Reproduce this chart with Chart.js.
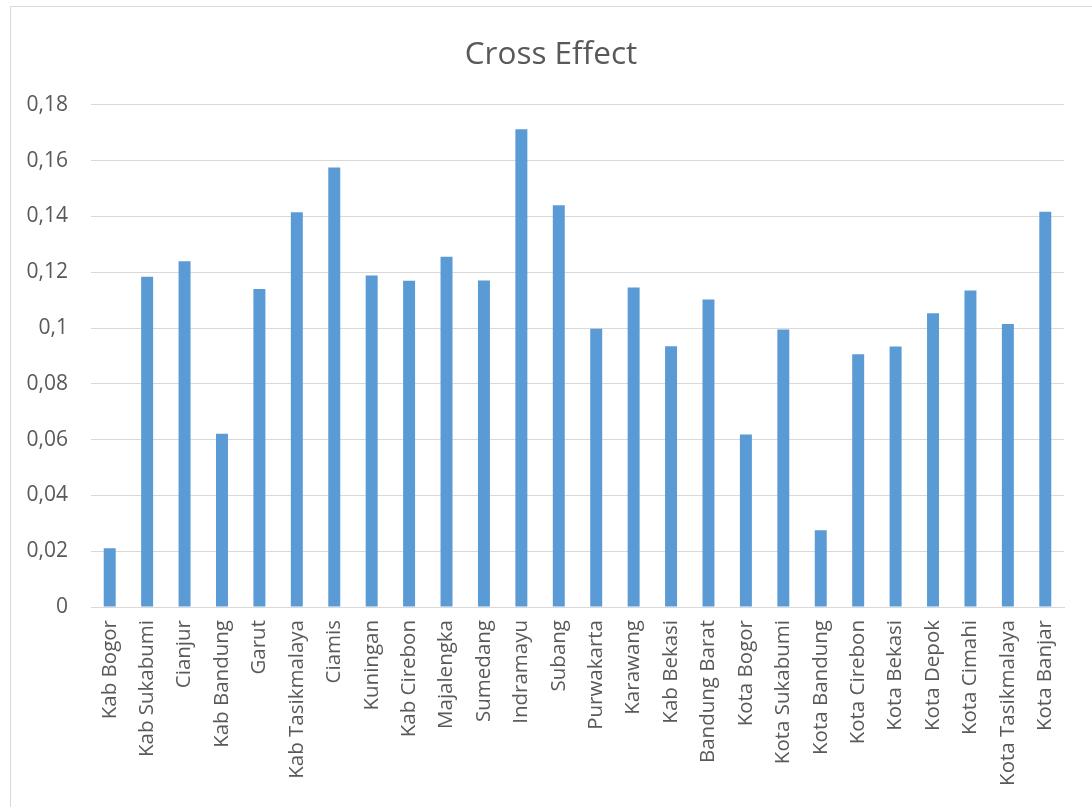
<!DOCTYPE html>
<html>
<head>
<meta charset="utf-8">
<script src="https://cdn.jsdelivr.net/npm/chart.js@4/dist/chart.umd.min.js"></script>
<style>
  html, body { margin: 0; padding: 0; background: #ffffff; }
  #wrap { width: 1092px; height: 807px; position: relative; }
</style>
</head>
<body>
<div id="wrap"><canvas id="chart" width="1092" height="807"></canvas></div>
<script>
// Regions of West Java
const categories = [
  'Kab Bogor', 'Kab Sukabumi', 'Cianjur', 'Kab Bandung', 'Garut', 'Kab Tasikmalaya',
  'Ciamis', 'Kuningan', 'Kab Cirebon', 'Majalengka', 'Sumedang', 'Indramayu', 'Subang',
  'Purwakarta', 'Karawang', 'Kab Bekasi', 'Bandung Barat', 'Kota Bogor', 'Kota Sukabumi',
  'Kota Bandung', 'Kota Cirebon', 'Kota Bekasi', 'Kota Depok', 'Kota Cimahi',
  'Kota Tasikmalaya', 'Kota Banjar'
];

// Cross effect per region
const crossEffect = [
  0.0211, 0.1184, 0.1239, 0.0621, 0.1140, 0.1415,
  0.1575, 0.1188, 0.1169, 0.1255, 0.1170, 0.1712, 0.1440,
  0.0997, 0.1145, 0.0935, 0.1102, 0.0618, 0.0995,
  0.0275, 0.0906, 0.0934, 0.1053, 0.1134,
  0.1014, 0.1417
];

// Value axis
const yMin = 0;
const yMax = 0.18;
const yStep = 0.02;

const chartTitle = 'Cross Effect';

const frame = {
  id: 'frame',
  beforeDraw(chart) {
    const ctx = chart.ctx;
    ctx.save();
    ctx.fillStyle = '#ffffff';
    ctx.fillRect(0, 0, chart.width, chart.height);
    ctx.strokeStyle = '#d9d9d9';
    ctx.lineWidth = 1;
    ctx.strokeRect(10.5, 6.5, 1300, 1000);
    ctx.restore();
  }
};

const fontFamily = '"Open Sans", "Noto Sans", sans-serif';

new Chart(document.getElementById('chart'), {
  type: 'bar',
  data: {
    labels: categories,
    datasets: [{
      label: chartTitle,
      data: crossEffect,
      backgroundColor: '#5b9bd5',
      borderWidth: 0,
      categoryPercentage: 1,
      barPercentage: 0.32
    }]
  },
  options: {
    responsive: false,
    animation: false,
    layout: { padding: { left: 10, right: 0, top: 0, bottom: 0 } },
    plugins: {
      legend: { display: false },
      tooltip: { enabled: false },
      title: {
        display: true,
        text: chartTitle,
        color: '#595959',
        font: { family: fontFamily, size: 31.5, weight: 'normal', lineHeight: 1.2 },
        padding: { top: 36, bottom: 31 }
      }
    },
    scales: {
      x: {
        grid: { display: false, drawTicks: false },
        border: { display: true, color: '#d9d9d9', width: 1 },
        ticks: {
          color: '#595959',
          font: { family: fontFamily, size: 20.5 },
          minRotation: 90,
          maxRotation: 90,
          autoSkip: false,
          padding: 13
        },
        afterFit(scale) { scale.height = 200; }
      },
      y: {
        min: yMin,
        max: yMax,
        grid: { color: '#d9d9d9', lineWidth: 1, drawTicks: false },
        border: { display: false },
        ticks: {
          stepSize: yStep,
          color: '#595959',
          font: { family: fontFamily, size: 21 },
          padding: 23,
          callback(value) {
            return parseFloat(Number(value).toFixed(2)).toString().replace('.', ',');
          }
        },
        afterFit(scale) { scale.width = 81; }
      },
      // empty right-hand margin inside the chart frame
      yRight: {
        type: 'linear',
        position: 'right',
        min: yMin,
        max: yMax,
        grid: { display: false, drawTicks: false },
        border: { display: false },
        ticks: { display: false },
        afterFit(scale) { scale.width = 28; }
      }
    }
  },
  plugins: [frame]
});
</script>
</body>
</html>
